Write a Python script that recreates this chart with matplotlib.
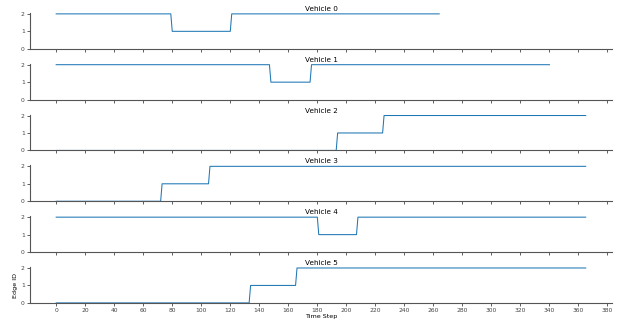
import numpy as np
import matplotlib.pyplot as plt

# edge id per segment, and how many time steps each segment lasts
vehicle_values = [
    [2, 1, 2],
    [2, 1, 2],
    [0, 1, 2],
    [0, 1, 2],
    [2, 1, 2],
    [0, 1, 2],
]
vehicle_lengths = [
    [80, 41, 144],
    [148, 28, 165],
    [194, 32, 140],
    [73, 33, 260],
    [181, 27, 158],
    [134, 32, 200],
]

fig, axes = plt.subplots(6, 1, figsize=(6.19, 3.25), dpi=100, sharex=True)
fig.subplots_adjust(left=0.048, right=0.989, top=0.96, bottom=0.068, hspace=0.42)

for i, ax in enumerate(axes):
    series = np.repeat(vehicle_values[i], vehicle_lengths[i])
    ax.plot(np.arange(len(series)), series, color='C0', linewidth=0.75)
    ax.set_title(f"Vehicle {i}", fontsize=5.2, pad=1.5)
    ax.set_ylim(0, 2.05)
    ax.set_yticks([0, 1, 2])
    ax.spines['top'].set_visible(False)
    ax.spines['right'].set_visible(False)
    ax.tick_params(labelsize=4.3, length=2, width=0.6, pad=1.5, colors='#444444')
    for s in ['left', 'bottom']:
        ax.spines[s].set_linewidth(0.8)
        ax.spines[s].set_color('#555555')

axes[-1].set_xticks(np.arange(0, 381, 20))
axes[-1].set_xlabel("Time Step", fontsize=4.6, labelpad=1)
axes[-1].set_ylabel("Edge ID", fontsize=4.6, labelpad=2)

plt.savefig("out.png", dpi=100)
